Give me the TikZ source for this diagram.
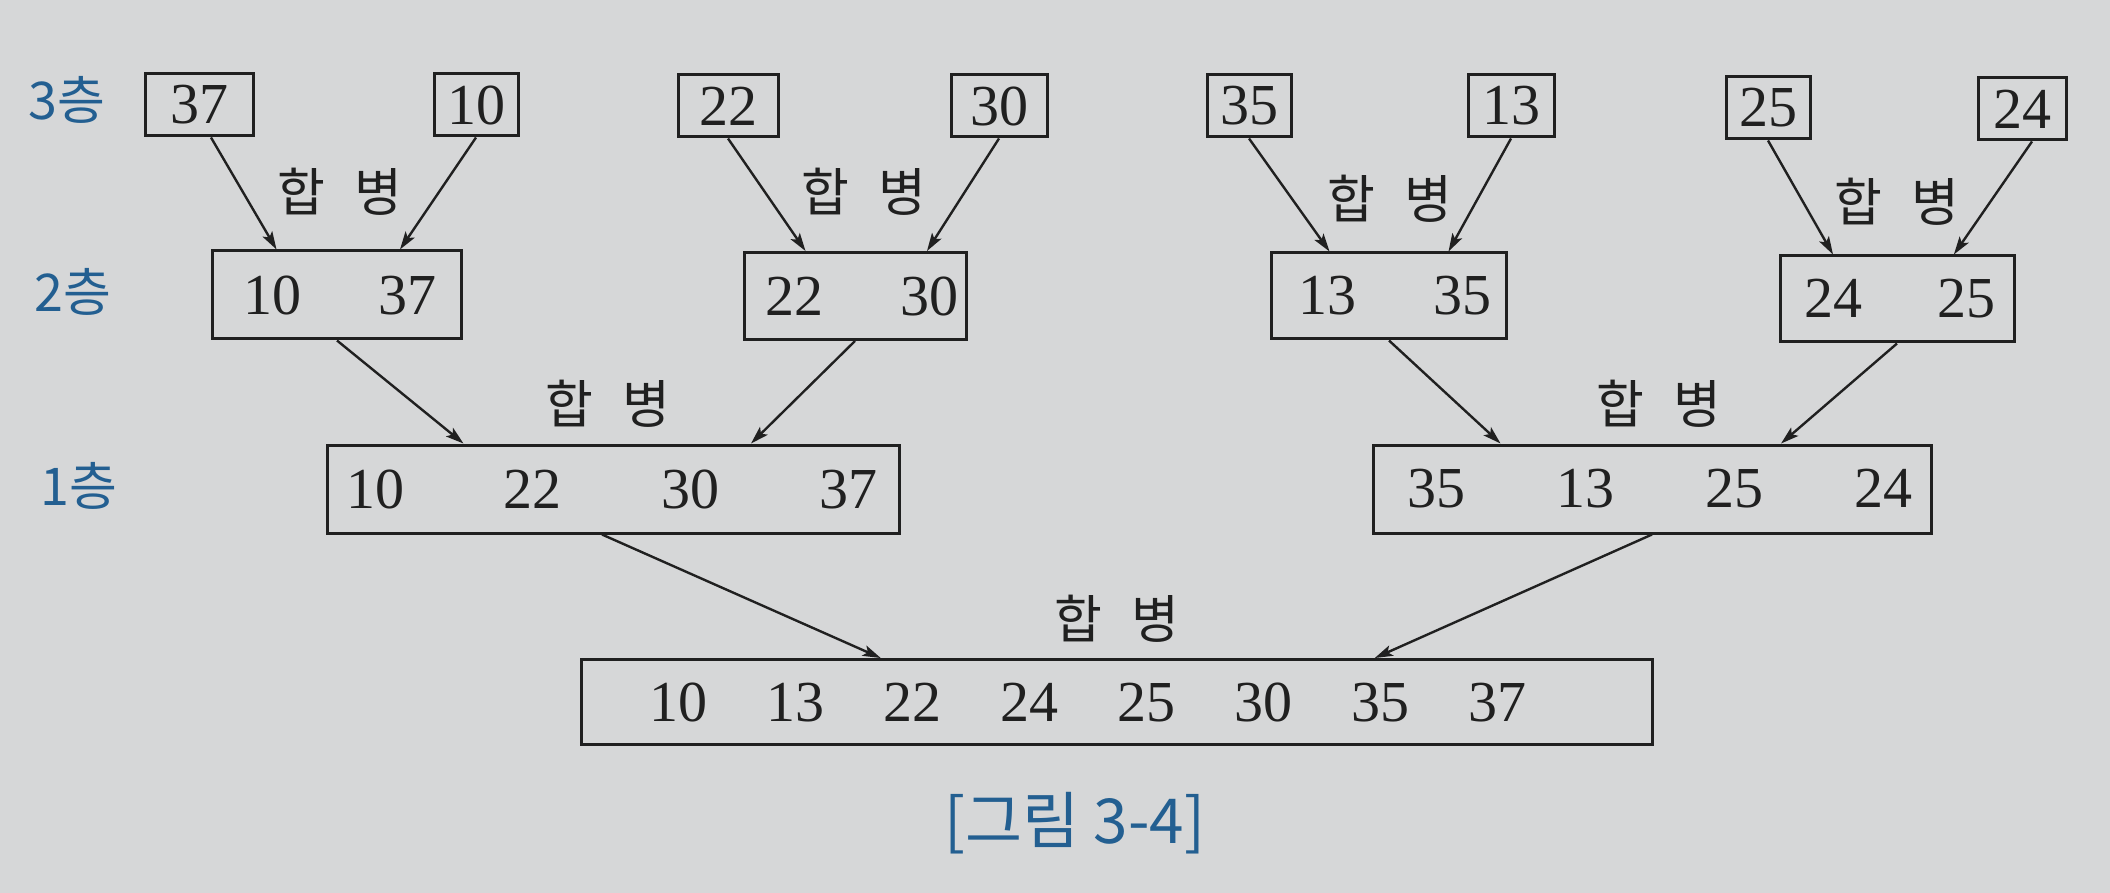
\documentclass[tikz,border=0pt]{standalone}
\usepackage{fontspec}
\setmainfont{Liberation Serif}
\newfontfamily\krserif{Noto Sans CJK KR}
\newfontfamily\krsans{Noto Sans CJK KR}
\usetikzlibrary{arrows.meta,calc}
\definecolor{bg}{RGB}{214,215,216}
\definecolor{ink}{RGB}{32,32,32}
\definecolor{lay}{RGB}{35,95,145}
\newcommand{\numrow}[3]{\makebox[0pt]{\hspace*{#1}\foreach \n in {#3}{\makebox[#2]{\n}}}}
\newcommand{\mergefont}{\krserif\fontsize{52}{56}\selectfont\fontdimen2\font=30pt\relax}
\begin{document}
\begin{tikzpicture}[x=1pt,y=-1pt,
  box/.style={draw=ink, line width=3pt, inner sep=0pt, text=ink,
    font=\fontsize{58}{60}\selectfont},
  merge/.style={font=\mergefont, text=ink, inner sep=0pt},
  layer/.style={font=\krsans\fontsize{52}{56}\selectfont, text=lay, inner sep=0pt},
  arr/.style={draw=ink, line width=2.4pt, -{Stealth[length=18pt,width=11pt,inset=4pt]}}
]
\fill[bg] (0,0) rectangle (2110,893);
\useasboundingbox (0,0) rectangle (2110,893);

% layer labels
\node[layer] (L3) at (67,100) {3층};
\node[layer] (L2) at (73,292) {2층};
\node[layer] (L1) at (79,486) {1층};

% layer 3
\node[box, minimum width=108pt, minimum height=62pt] (n37) at (199,105) {37};
\node[box, minimum width=84pt, minimum height=62pt] (n10) at (476,105) {10};
\node[box, minimum width=100pt, minimum height=62pt] (n22) at (728,106) {22};
\node[box, minimum width=96pt, minimum height=62pt] (n30) at (999,106) {30};
\node[box, minimum width=84pt, minimum height=62pt] (n35) at (1249,106) {35};
\node[box, minimum width=86pt, minimum height=62pt] (n13) at (1511,106) {13};
\node[box, minimum width=84pt, minimum height=62pt] (n25) at (1768,108) {25};
\node[box, minimum width=88pt, minimum height=62pt] (n24) at (2022,109) {24};

% layer 2
\node[box, minimum width=249pt, minimum height=88pt] (A) at (337,295) {\numrow{6pt}{135pt}{10,37}};
\node[box, minimum width=222pt, minimum height=87pt] (B) at (855,296) {\numrow{14pt}{135pt}{22,30}};
\node[box, minimum width=235pt, minimum height=86pt] (C) at (1389,296) {\numrow{12pt}{135pt}{13,35}};
\node[box, minimum width=234pt, minimum height=86pt] (D) at (1897,299) {\numrow{6pt}{133pt}{24,25}};

% layer 1
\node[box, minimum width=572pt, minimum height=88pt] (E) at (613,489) {\numrow{-2pt}{158pt}{10,22,30,37}};
\node[box, minimum width=558pt, minimum height=88pt] (F) at (1652,489) {\numrow{16pt}{149pt}{35,13,25,24}};

% bottom
\node[box, minimum width=1071pt, minimum height=85pt] (G) at (1117,702) {\numrow{-58pt}{117pt}{10,13,22,24,25,30,35,37}};

% merge labels
\node[merge] (m1) at (340,192) {합 병};
\node[merge] (m2) at (864,192) {합 병};
\node[merge] (m3) at (1390,199) {합 병};
\node[merge] (m4) at (1897,202) {합 병};
\node[merge] (m5) at (608,404) {합 병};
\node[merge] (m6) at (1659,404) {합 병};
\node[merge] (m7) at (1117,619) {합 병};

% arrows layer 3 -> 2
\draw[arr] ($(n37.south)+(12,0)$) -- ($(A.north west)!0.26!(A.north east)$);
\draw[arr] (n10.south) -- ($(A.north west)!0.75!(A.north east)$);
\draw[arr] (n22.south) -- ($(B.north west)!0.28!(B.north east)$);
\draw[arr] (n30.south) -- ($(B.north west)!0.82!(B.north east)$);
\draw[arr] (n35.south) -- ($(C.north west)!0.25!(C.north east)$);
\draw[arr] (n13.south) -- ($(C.north west)!0.75!(C.north east)$);
\draw[arr] (n25.south) -- ($(D.north west)!0.23!(D.north east)$);
\draw[arr] ($(n24.south)+(10,0)$) -- ($(D.north west)!0.74!(D.north east)$);

% arrows layer 2 -> 1
\draw[arr] (A.south) -- ($(E.north west)!0.24!(E.north east)$);
\draw[arr] (B.south) -- ($(E.north west)!0.74!(E.north east)$);
\draw[arr] (C.south) -- ($(F.north west)!0.23!(F.north east)$);
\draw[arr] (D.south) -- ($(F.north west)!0.73!(F.north east)$);

% arrows layer 1 -> bottom
\draw[arr] ($(E.south)+(-11,0)$) -- ($(G.north west)!0.28!(G.north east)$);
\draw[arr] (F.south) -- ($(G.north west)!0.74!(G.north east)$);

% caption
\node[font=\krsans\fontsize{62}{66}\selectfont, text=lay, inner sep=0pt] (cap) at (1075,823) {[그림 3-4]};
\end{tikzpicture}
\end{document}
